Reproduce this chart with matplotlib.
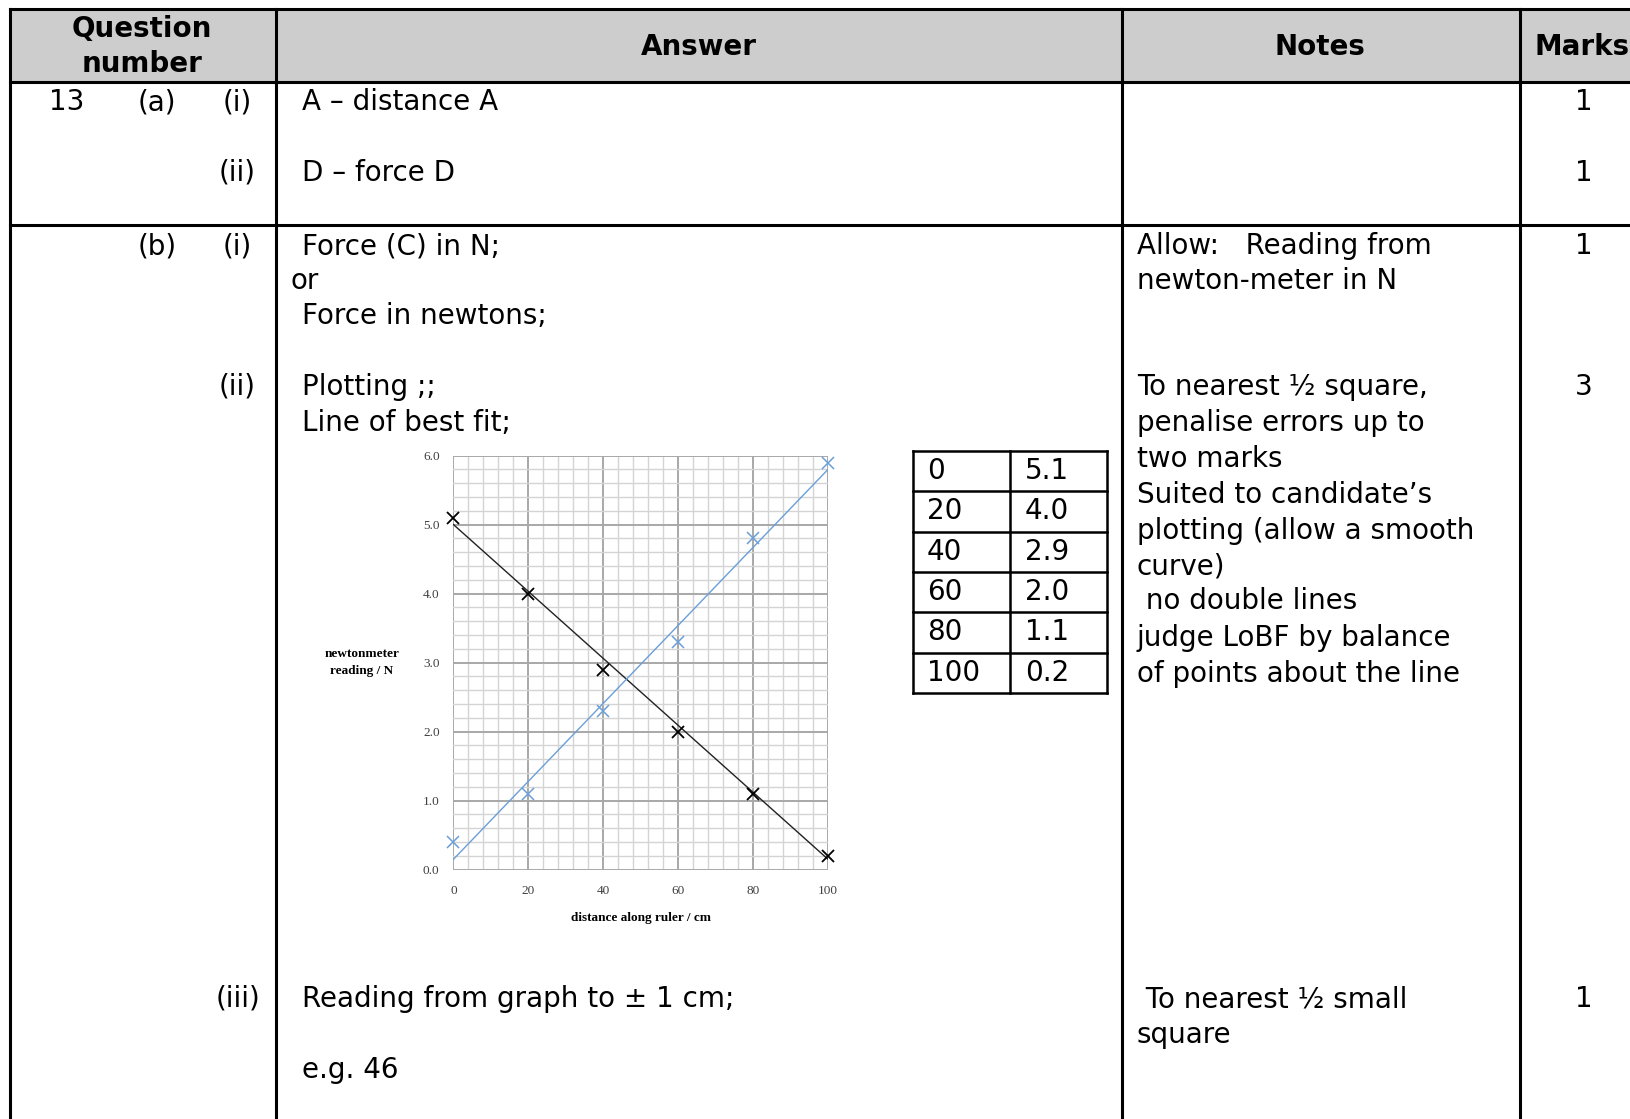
import numpy as np
import matplotlib
matplotlib.use('Agg')
import matplotlib.pyplot as plt

# 数据
distance = [0, 20, 40, 60, 80, 100]
reading_black = [5.1, 4.0, 2.9, 2.0, 1.1, 0.2]
reading_blue = [0.4, 1.1, 2.3, 3.3, 4.8, 5.9]
fit_x = [0, 100]
fit_black = [5.0, 0.15]
fit_blue = [0.15, 5.8]

header_labels = ['Answer', 'Notes', 'Marks']
marks = ['1', '1', '1', '3', '1']

W, H = 1631, 1119
fig = plt.figure(figsize=(W / 100, H / 100), dpi=100)

# 页面层，像素坐标
page = fig.add_axes([0, 0, 1, 1])
page.set_xlim(0, W)
page.set_ylim(H, 0)
page.axis('off')

fs = 20
font = 'DejaVu Sans'
lw = 2.2

# 表头底色
page.fill_between([10, W], 9, 82, color='#cdcdcd', zorder=0)

# 表格线
page.plot([10, W], [9, 9], color='black', lw=lw)
page.plot([10, W], [82, 82], color='black', lw=lw)
page.plot([10, W], [225, 225], color='black', lw=lw)
for xv in [10, 276, 1122, 1520]:
    page.plot([xv, xv], [9, H], color='black', lw=lw)

# 表头文字
page.text(142, 29, 'Question', ha='center', va='center', fontsize=fs, fontweight='bold', family=font)
page.text(142, 64, 'number', ha='center', va='center', fontsize=fs, fontweight='bold', family=font)
page.text(699, 47, header_labels[0], ha='center', va='center', fontsize=fs, fontweight='bold', family=font)
page.text(1320, 47, header_labels[1], ha='center', va='center', fontsize=fs, fontweight='bold', family=font)
page.text(1535, 47, header_labels[2], ha='left', va='center', fontsize=fs, fontweight='bold', family=font)

def t(x, y, s, ha='left'):
    page.text(x, y, s, ha=ha, va='center', fontsize=fs, family=font)

# 题号列
t(49, 102, '13')
t(138, 102, '(a)')
t(252, 102, '(i)', ha='right')
t(256, 173, '(ii)', ha='right')
t(138, 246, '(b)')
t(252, 246, '(i)', ha='right')
t(256, 387, '(ii)', ha='right')
t(260, 999, '(iii)', ha='right')

# 答案列
t(302, 102, 'A \u2013 distance A')
t(302, 173, 'D \u2013 force D')
t(302, 246, 'Force (C) in N;')
t(291, 281, 'or')
t(302, 316, 'Force in newtons;')
t(302, 387, 'Plotting ;;')
t(302, 423, 'Line of best fit;')
t(302, 999, 'Reading from graph to \u00b1 1 cm;')
t(302, 1070, 'e.g. 46')

# 备注列
notes = [(246, 'Allow:   Reading from'), (281, 'newton-meter in N'),
         (387, 'To nearest \u00bd square,'), (423, 'penalise errors up to'),
         (459, 'two marks'), (495, 'Suited to candidate\u2019s'),
         (531, 'plotting (allow a smooth'), (567, 'curve)'),
         (601, ' no double lines'), (638, 'judge LoBF by balance'),
         (674, 'of points about the line'),
         (999, ' To nearest \u00bd small'), (1035, 'square')]
for yy, s in notes:
    t(1137, yy, s)

# 分数列
for yy, m in zip([102, 173, 246, 387, 999], marks):
    t(1584, yy, m, ha='center')

# 数据小表
tx0, tx1, tx2 = 913, 1010, 1107
ty0, rh = 451, 40.3
for i in range(len(distance) + 1):
    page.plot([tx0, tx2], [ty0 + i * rh, ty0 + i * rh], color='black', lw=1.8)
for xv in [tx0, tx1, tx2]:
    page.plot([xv, xv], [ty0, ty0 + len(distance) * rh], color='black', lw=1.8)
for i, (d, r) in enumerate(zip(distance, reading_black)):
    yc = ty0 + (i + 0.5) * rh
    t(927, yc, str(d))
    t(1025, yc, f'{r:.1f}')

# 图表
ax = fig.add_axes([453.5 / W, 1 - 869.6 / H, (828 - 453.5) / W, (869.6 - 455.6) / H])
ax.set_xlim(0, 100)
ax.set_ylim(0, 6)
ax.set_xticks(np.arange(0, 101, 20))
ax.set_yticks(np.arange(0, 6.01, 1.0))
ax.set_xticks(np.arange(0, 101, 4), minor=True)
ax.set_yticks(np.arange(0, 6.01, 0.2), minor=True)
ax.grid(which='minor', color='#d4d4d4', lw=1.0)
ax.grid(which='major', color='#a8a8a8', lw=1.4)
ax.set_axisbelow(True)
for sp in ax.spines.values():
    sp.set_visible(False)
ax.tick_params(which='both', length=0)
ax.tick_params(axis='y', pad=10)
ax.tick_params(axis='x', pad=11)
ax.set_yticklabels([f'{v:.1f}' for v in np.arange(0, 6.01, 1.0)])
for lab in ax.get_xticklabels() + ax.get_yticklabels():
    lab.set_family('Liberation Serif')
    lab.set_fontsize(9.5)
    lab.set_color('#404040')

ax.plot(fit_x, fit_black, color='#222222', lw=1.0)
ax.plot(fit_x, fit_blue, color='#6a9fd8', lw=1.0)
ax.plot(distance, reading_black, 'x', color='black', ms=8, mew=1.3, clip_on=False)
ax.plot(distance, reading_blue, 'x', color='#6a9fd8', ms=8, mew=1.1, clip_on=False)

page.text(641, 918, 'distance along ruler / cm', ha='center', va='center',
          fontsize=9.5, fontweight='bold', family='Liberation Serif')
page.text(362, 654, 'newtonmeter', ha='center', va='center',
          fontsize=9.5, fontweight='bold', family='Liberation Serif')
page.text(362, 671, 'reading / N', ha='center', va='center',
          fontsize=9.5, fontweight='bold', family='Liberation Serif')

fig.savefig('out.png', dpi=100)
